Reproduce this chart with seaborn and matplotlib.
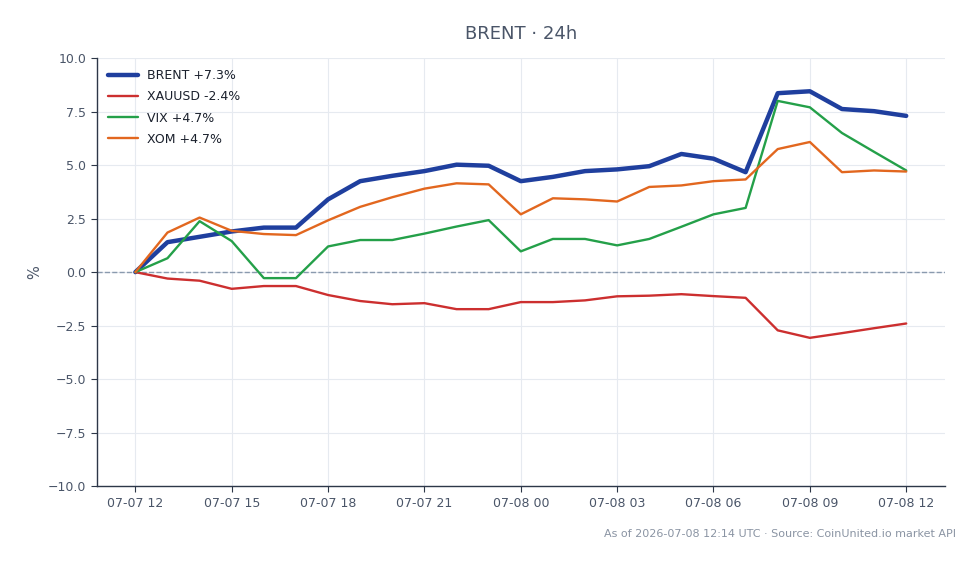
import pandas as pd
import matplotlib
matplotlib.use('Agg')
import matplotlib.pyplot as plt
import matplotlib.dates as mdates
import seaborn as sns

# Hourly % change, 07-07 12:00 -> 07-08 12:00 UTC
times = pd.date_range('2026-07-07 12:00', '2026-07-08 12:00', freq='h')

brent = [0, 1.40, 1.65, 1.90, 2.08, 2.08, 3.40, 4.25, 4.50, 4.72, 5.02, 4.97,
         4.25, 4.45, 4.72, 4.80, 4.95, 5.52, 5.30, 4.67, 8.36, 8.45, 7.62, 7.52, 7.30]
xauusd = [0, -0.30, -0.40, -0.78, -0.65, -0.65, -1.07, -1.35, -1.50, -1.45, -1.73, -1.73,
          -1.40, -1.40, -1.32, -1.13, -1.10, -1.03, -1.12, -1.20, -2.72, -3.07, -2.85, -2.62, -2.40]
vix = [0, 0.65, 2.38, 1.45, -0.28, -0.28, 1.20, 1.50, 1.50, 1.80, 2.13, 2.43,
       0.97, 1.55, 1.55, 1.25, 1.55, 2.12, 2.70, 3.00, 8.00, 7.70, 6.50, 5.62, 4.75]
xom = [0, 1.85, 2.55, 1.93, 1.78, 1.73, 2.42, 3.05, 3.50, 3.90, 4.15, 4.10,
       2.70, 3.45, 3.40, 3.30, 3.98, 4.05, 4.25, 4.33, 5.75, 6.08, 4.67, 4.75, 4.70]

labels = ['BRENT +7.3%', 'XAUUSD -2.4%', 'VIX +4.7%', 'XOM +4.7%']
colors = ['#1f3f9e', '#cc2f2f', '#24a049', '#e2671f']
widths = [3.2, 1.7, 1.7, 1.7]

sns.set_style('white')
plt.rcParams['font.family'] = ['DejaVu Sans']

text_col = '#4a5568'
fig, ax = plt.subplots(figsize=(9.78, 5.64), dpi=100)
fig.subplots_adjust(left=0.099, right=0.966, top=0.897, bottom=0.138)

ax.axhline(0, ls='--', color='#8a9aae', lw=1, zorder=1)

for vals, lab, c, w in zip([brent, xauusd, vix, xom], labels, colors, widths):
    sns.lineplot(x=times, y=vals, ax=ax, label=lab, color=c, linewidth=w, zorder=3)

ax.set_ylim(-10, 10)
ax.set_yticks([-10, -7.5, -5, -2.5, 0, 2.5, 5, 7.5, 10])
ax.yaxis.set_major_formatter(matplotlib.ticker.ScalarFormatter())
ax.xaxis.set_major_locator(mdates.HourLocator(byhour=range(0, 24, 3)))
ax.xaxis.set_major_formatter(mdates.DateFormatter('%m-%d %H'))

ax.grid(True, color='#e6eaf0', lw=0.8)
ax.set_axisbelow(True)
for s in ['top', 'right']:
    ax.spines[s].set_visible(False)
for s in ['left', 'bottom']:
    ax.spines[s].set_color('#2d3748')
    ax.spines[s].set_linewidth(1.0)
ax.tick_params(axis='both', colors='#2d3748', labelcolor=text_col, labelsize=9,
               length=4, direction='out', left=True, bottom=True)

ax.set_xlabel('')
ax.set_ylabel('%', color=text_col, fontsize=10.5, labelpad=4)
ax.set_title('BRENT · 24h', color=text_col, fontsize=13, pad=14)

leg = ax.legend(loc='upper left', frameon=False, fontsize=9, handlelength=2.4,
                handletextpad=0.7, borderaxespad=0.5, labelspacing=0.65)
for t in leg.get_texts():
    t.set_color('#1a202c')

fig.text(0.977, 0.054, 'As of 2026-07-08 12:14 UTC · Source: CoinUnited.io market API',
         ha='right', va='center', fontsize=8, color='#8a94a3')

fig.savefig('out.png', dpi=100)
